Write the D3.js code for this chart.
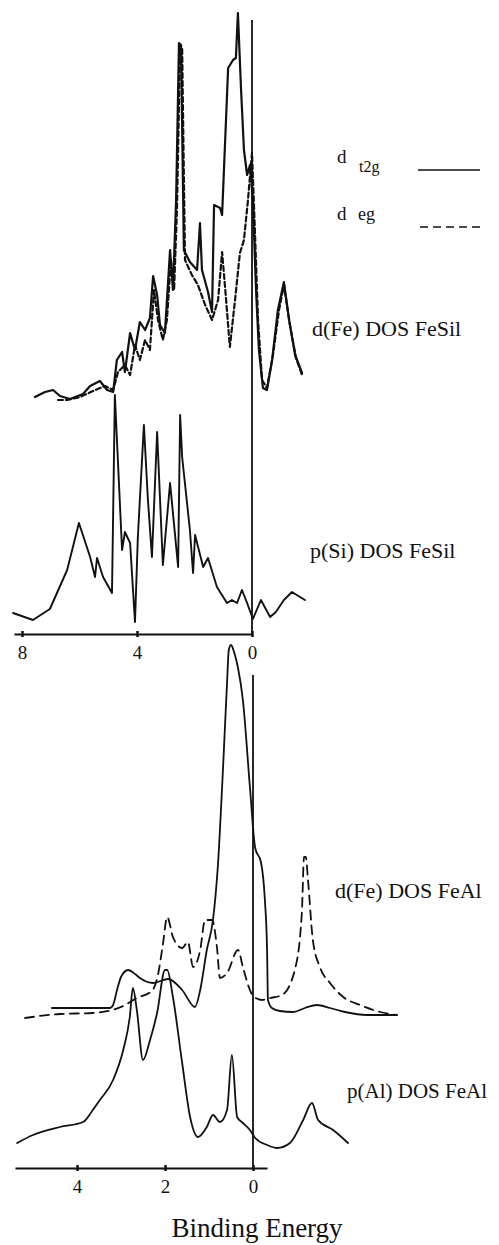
<!DOCTYPE html>
<html>
<head>
<meta charset="utf-8">
<script src="https://cdn.jsdelivr.net/npm/d3@7"></script>
<style>
  body { margin: 0; background: #fff; }
  svg { display: block; }
  .curve { fill: none; stroke: #111; stroke-linejoin: round; stroke-linecap: round; }
  text { font-family: "Liberation Serif", "Times New Roman", Times, "DejaVu Serif", "Noto Serif", serif; }
</style>
</head>
<body>
<div id="chart"></div>
<script>
// binding energy (eV) and DOS values

// FeSi, d(Fe) t2g (solid)
const fesiT2gE = [7.55, 7.20, 6.92, 6.68, 6.33, 5.88, 5.63, 5.29, 5.04, 4.83, 4.70, 4.52, 4.42, 4.24, 4.07, 3.90, 3.72, 3.55, 3.44, 3.30, 3.20, 3.03, 2.85, 2.75, 2.64, 2.54, 2.47, 2.37, 2.16, 1.91, 1.81, 1.74, 1.53, 1.39, 1.32, 1.11, 1.04, 0.83, 0.66, 0.56, 0.49, 0.38, 0.28, 0.17, 0.07, -0.03, -0.14, -0.24, -0.38, -0.52, -0.70, -0.90, -1.11, -1.29, -1.50, -1.74];
const fesiT2g = [0.3, 0.8, 1.0, 0.4, 0.1, 0.6, 1.4, 1.9, 1.0, 0.8, 4.0, 4.8, 2.8, 6.7, 5.0, 7.8, 7.0, 8.2, 12.4, 10.5, 7.5, 6.7, 15.0, 11.0, 20.0, 35.7, 35.5, 15.0, 13.8, 13.0, 17.7, 13.0, 10.8, 8.8, 19.5, 19.2, 18.5, 33.2, 34.0, 34.2, 38.7, 31.0, 25.0, 22.5, 23.5, 20.0, 11.0, 5.0, 1.2, 1.0, 4.0, 9.0, 11.8, 8.0, 4.5, 2.7];

// FeSi, d(Fe) eg (dashed)
const fesiEgE = [6.75, 6.43, 5.98, 5.53, 5.11, 4.83, 4.66, 4.42, 4.24, 4.07, 3.90, 3.72, 3.55, 3.41, 3.27, 3.10, 2.96, 2.82, 2.71, 2.61, 2.50, 2.43, 2.33, 2.09, 1.88, 1.63, 1.39, 1.18, 1.04, 0.90, 0.77, 0.59, 0.42, 0.28, 0.14, 0.00, -0.10, -0.21, -0.35, -0.52, -0.73, -0.94, -1.11, -1.32, -1.53, -1.74];
const fesiEg = [0.0, 0.0, 0.3, 0.9, 1.4, 1.0, 2.8, 3.5, 2.5, 5.5, 4.0, 6.0, 5.0, 11.0, 8.0, 6.0, 8.0, 14.0, 11.0, 19.0, 35.5, 35.2, 14.0, 12.5, 11.5, 9.5, 8.0, 10.0, 14.8, 10.0, 5.3, 10.0, 14.7, 16.0, 20.0, 24.7, 17.0, 8.0, 2.0, 1.2, 4.5, 9.0, 11.5, 7.5, 4.2, 2.5];

// FeSi, p(Si)
const fesiPE = [8.31, 7.62, 7.03, 6.43, 6.02, 5.63, 5.46, 5.39, 5.18, 4.87, 4.77, 4.52, 4.42, 4.24, 4.07, 3.97, 3.76, 3.62, 3.48, 3.30, 3.10, 2.85, 2.57, 2.50, 2.43, 2.16, 2.05, 1.98, 1.70, 1.53, 1.22, 0.87, 0.70, 0.52, 0.35, 0.17, -0.03, -0.31, -0.63, -0.83, -1.11, -1.39, -1.84];
const fesiP = [1.2, 0.5, 1.6, 5.5, 10.2, 6.8, 4.8, 6.7, 4.8, 3.2, 23.0, 7.5, 9.3, 8.2, 0.3, 8.8, 20.0, 12.5, 6.8, 19.3, 6.0, 14.2, 5.8, 21.0, 16.8, 9.5, 5.2, 9.0, 5.8, 6.7, 3.8, 2.2, 2.5, 2.2, 3.5, 2.2, 0.6, 2.5, 0.8, 1.3, 2.5, 3.3, 2.5];

// FeAl, d(Fe) t2g (solid)
const fealT2gE = [4.57, 3.25, 3.18, 3.09, 3.00, 2.84, 2.68, 2.57, 2.27, 1.93, 1.61, 1.32, 1.20, 1.05, 0.91, 0.80, 0.68, 0.59, 0.55, 0.50, 0.43, 0.34, 0.23, 0.07, -0.05, -0.18, -0.27, -0.32, -0.34, -0.43, -0.61, -0.91, -1.18, -1.45, -1.75, -2.09, -2.59, -3.27];
const fealT2g = [1.2, 1.2, 1.5, 3.0, 4.3, 5.0, 4.6, 4.2, 3.7, 4.1, 3.0, 1.3, 3.0, 7.0, 10.0, 15.3, 25.3, 33.7, 37.0, 37.5, 36.8, 35.2, 32.0, 23.3, 17.2, 15.8, 12.0, 7.0, 2.0, 1.2, 0.9, 0.8, 1.2, 1.5, 1.2, 0.8, 0.5, 0.5];

// FeAl, d(Fe) eg (dashed)
const fealEgE = [5.18, 4.39, 3.64, 2.95, 2.64, 2.30, 2.16, 2.05, 1.95, 1.82, 1.61, 1.48, 1.36, 1.20, 1.09, 0.93, 0.82, 0.75, 0.59, 0.34, 0.23, 0.07, 0.00, -0.20, -0.39, -0.66, -0.95, -1.11, -1.16, -1.20, -1.25, -1.36, -1.52, -1.75, -2.05, -2.43, -2.89, -3.27];
const fealEg = [0.2, 0.6, 0.7, 1.4, 2.2, 2.9, 4.5, 7.5, 10.3, 8.3, 7.2, 7.8, 5.3, 7.0, 10.0, 10.0, 7.3, 4.2, 4.7, 7.0, 5.3, 3.0, 2.4, 2.0, 2.2, 2.5, 5.0, 10.7, 16.3, 16.3, 14.0, 8.0, 5.3, 3.7, 2.3, 1.5, 0.8, 0.5];

// FeAl, p(Al)
const fealPE = [5.36, 5.00, 4.39, 3.86, 3.64, 3.48, 3.18, 2.95, 2.80, 2.73, 2.64, 2.50, 2.34, 2.18, 2.00, 1.95, 1.82, 1.61, 1.43, 1.25, 1.05, 0.91, 0.75, 0.59, 0.48, 0.36, 0.23, 0.07, -0.05, -0.32, -0.55, -0.84, -1.14, -1.34, -1.48, -1.82, -2.16];
const fealP = [0.7, 1.5, 2.3, 2.8, 4.0, 5.0, 7.0, 10.0, 13.3, 16.2, 14.0, 9.0, 11.0, 13.7, 18.0, 18.0, 15.3, 8.7, 3.3, 1.3, 2.3, 3.5, 2.8, 4.0, 9.5, 3.3, 2.7, 2.0, 1.2, 0.5, 0.2, 0.7, 3.0, 4.7, 3.0, 2.0, 0.7];

// axis ticks
const topTicks = [8, 4, 0];
const bottomTicks = [4, 2, 0];
const topAxisExtent = [8.28, 0];
const bottomAxisExtent = [5.41, -0.32];

// layout
const width = 499;
const height = 1245;

const svg = d3
  .select("#chart")
  .append("svg")
  .attr("width", width)
  .attr("height", height);

svg.append("rect").attr("width", width).attr("height", height).attr("fill", "#fff");

// Scales
const xTop = d3.scaleLinear().domain([8, 0]).range([22, 252]);
const xBot = d3.scaleLinear().domain([4, 0]).range([77, 253]);
const yFeSiD = d3.scaleLinear().domain([0, 39]).range([400, 10]);
const yFeSiP = d3.scaleLinear().domain([0, 23]).range([625, 395]);
const yFeAlD = d3.scaleLinear().domain([0, 40]).range([1020, 620]);
const yFeAlP = d3.scaleLinear().domain([0, 20]).range([1150, 950]);

const topAxisY = 634;
const bottomAxisY = 1168;

function drawCurve(es, vs, xs, ys, opts) {
  const line = d3
    .line()
    .x((d) => xs(d[0]))
    .y((d) => ys(d[1]))
    .curve(opts.curve || d3.curveLinear);
  svg
    .append("path")
    .datum(d3.zip(es, vs))
    .attr("class", "curve")
    .attr("d", line)
    .attr("stroke-width", opts.width || 1.7)
    .attr("stroke-dasharray", opts.dash || null);
}

// FeSi panels (jagged, heavy scan lines)
drawCurve(fesiEgE, fesiEg, xTop, yFeSiD, { dash: "5,3", width: 2.2 });
drawCurve(fesiT2gE, fesiT2g, xTop, yFeSiD, { width: 2.2 });
drawCurve(fesiPE, fesiP, xTop, yFeSiP, { width: 1.9 });

// FeAl panels (smooth)
drawCurve(fealEgE, fealEg, xBot, yFeAlD, { dash: "9,6", width: 1.8, curve: d3.curveMonotoneX });
drawCurve(fealT2gE, fealT2g, xBot, yFeAlD, { width: 1.8, curve: d3.curveMonotoneX });
drawCurve(fealPE, fealP, xBot, yFeAlP, { width: 1.8, curve: d3.curveMonotoneX });

// Fermi level lines
svg.append("line")
  .attr("x1", xTop(0)).attr("x2", xTop(0))
  .attr("y1", yFeSiD(38)).attr("y2", topAxisY)
  .attr("stroke", "#111").attr("stroke-width", 1.8);

svg.append("line")
  .attr("x1", xBot(0)).attr("x2", xBot(0))
  .attr("y1", yFeAlD(34.5)).attr("y2", bottomAxisY)
  .attr("stroke", "#111").attr("stroke-width", 1.8);

// Axes
function drawAxis(scale, extent, ticks, y) {
  const s = scale.copy().domain(extent).range(extent.map(scale));
  const axis = d3
    .axisBottom(s)
    .tickValues(ticks)
    .tickSizeInner(3)
    .tickSizeOuter(0)
    .tickPadding(9)
    .tickFormat(d3.format("d"));
  const g = svg.append("g").attr("transform", `translate(0,${y})`).call(axis);
  g.attr("font-family", null);
  g.select(".domain").attr("stroke", "#111").attr("stroke-width", 2);
  g.selectAll(".tick line").attr("y1", -3).attr("stroke", "#111").attr("stroke-width", 2.5);
  g.selectAll(".tick text")
    .attr("font-size", 19)
    .attr("fill", "#111");
}

drawAxis(xTop, topAxisExtent, topTicks, topAxisY);
drawAxis(xBot, bottomAxisExtent, bottomTicks, bottomAxisY);

// Legend
svg.append("line")
  .attr("x1", 418).attr("x2", 480).attr("y1", 170).attr("y2", 170)
  .attr("stroke", "#111").attr("stroke-width", 1.6);
svg.append("line")
  .attr("x1", 420).attr("x2", 485).attr("y1", 227).attr("y2", 227)
  .attr("stroke", "#111").attr("stroke-width", 1.6).attr("stroke-dasharray", "8,5");

function label(text, x, y, size, anchor) {
  svg.append("text")
    .attr("x", x)
    .attr("y", y)
    .attr("font-size", size)
    .attr("fill", "#111")
    .attr("text-anchor", anchor || "start")
    .text(text);
}

label("d", 337, 163, 19);
label("t2g", 359, 172, 16);
label("d", 337, 220, 19);
label("eg", 358, 220, 18);

label("d(Fe) DOS FeSil", 312, 336, 22);
label("p(Si) DOS FeSil", 310, 558, 22);
label("d(Fe) DOS FeAl", 335, 898, 22);
label("p(Al) DOS FeAl", 347, 1098, 21);

label("Binding Energy", 257, 1237, 27, "middle");
</script>
</body>
</html>
